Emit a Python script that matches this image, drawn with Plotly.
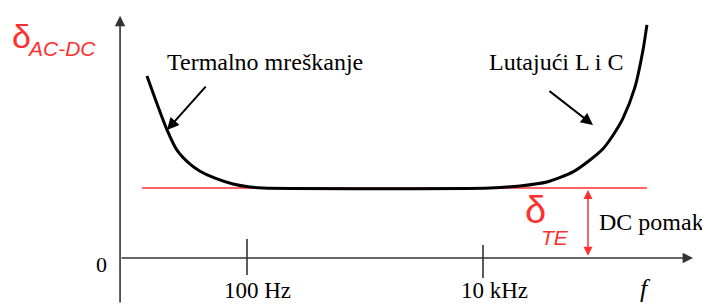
import numpy as np
import plotly.graph_objects as go

# ---- data (frequency in Hz, error in units of the DC offset) ----
curve_freq = [14.2, 17.3, 21.0, 25.5, 32.9, 40, 53.6, 76, 106, 137,
              11500, 20600, 34800, 57900, 80700, 104000, 126000, 153000, 194000, 227000, 245000]
curve_err = [2.6, 2.2, 1.83, 1.54, 1.34, 1.24, 1.14, 1.057, 1.014, 1.0,
             1.0, 1.03, 1.086, 1.23, 1.4, 1.56, 1.75, 1.99, 2.44, 2.97, 3.33]
te_freq = [12.9, 245000]
dc_offset = 1.0
tick_freqs = [100, 10000]
tick_labels = ["100 Hz", "10 kHz"]
axis_origin_freq = 8.4
axis_end_freq = 10 ** 5.78
y_top = 3.46

RED = "#ff3030"
AX = "#333333"
SERIF = "Liberation Serif, Times New Roman, serif"
SANS = "Liberation Sans, Arial, sans-serif"

# the page body has an 8px margin, so the figure is 702x296 and starts at (8, 8)
X_RANGE = [-0.0254, 5.9237]
Y_RANGE = [-0.657, 3.571]

fig = go.Figure()

# DC offset line (red)
fig.add_trace(go.Scatter(x=te_freq, y=[dc_offset] * len(te_freq), mode="lines",
                         line=dict(color=RED, width=1.5), hoverinfo="skip"))
# main curve
fig.add_trace(go.Scatter(x=curve_freq, y=curve_err, mode="lines",
                         line=dict(color="black", width=3, shape="spline", smoothing=0.7),
                         hoverinfo="skip"))
# tick marks crossing the axis
tx, ty = [], []
for f, up, dn in zip(tick_freqs, [0.271, 0.186], [-0.243, -0.286]):
    tx += [f, f, None]
    ty += [up, dn, None]
fig.add_trace(go.Scatter(x=tx, y=ty, mode="lines", line=dict(color=AX, width=1.6),
                         hoverinfo="skip"))

ann = []
# axes with arrows
ann.append(dict(x=np.log10(axis_origin_freq), y=y_top, ax=np.log10(axis_origin_freq), ay=Y_RANGE[0],
                xref="x", yref="y", axref="x", ayref="y", text="", showarrow=True,
                arrowhead=2, arrowsize=1.3, arrowwidth=1.6, arrowcolor=AX, standoff=0))
ann.append(dict(x=np.log10(axis_end_freq), y=0, ax=np.log10(axis_origin_freq), ay=0,
                xref="x", yref="y", axref="x", ayref="y", text="", showarrow=True,
                arrowhead=2, arrowsize=1.3, arrowwidth=1.6, arrowcolor=AX, standoff=0))
# red double arrow for DC offset
ann.append(dict(x=4.890, y=dc_offset - 0.03, ax=4.890, ay=0.01,
                xref="x", yref="y", axref="x", ayref="y", text="", showarrow=True,
                arrowhead=2, startarrowhead=2, arrowside="end+start",
                arrowsize=1.2, startarrowsize=1.2, arrowwidth=1.5, arrowcolor=RED,
                standoff=0, startstandoff=0))
# pointer arrows
ann.append(dict(x=1.322, y=1.83, ax=1.661, ay=2.47,
                xref="x", yref="y", axref="x", ayref="y", text="", showarrow=True,
                arrowhead=2, arrowsize=1.2, arrowwidth=2, arrowcolor="black", standoff=0))
ann.append(dict(x=4.932, y=1.9, ax=4.551, ay=2.4,
                xref="x", yref="y", axref="x", ayref="y", text="", showarrow=True,
                arrowhead=2, arrowsize=1.2, arrowwidth=2, arrowcolor="black", standoff=0))

def txt(x, y, s, size, color="black", family=SERIF, yanchor="middle"):
    return dict(x=x, y=y, xref="x", yref="y", text=s, showarrow=False,
                font=dict(family=family, size=size, color=color),
                xanchor="center", yanchor=yanchor, borderpad=0)

ann.append(txt(2.153, 2.8, "Termalno mreškanje", 24))
ann.append(txt(4.619, 2.8, "Lutajući L i C", 24))
ann.append(txt(5.432, 0.514, "DC pomak", 24))
for f, lab, dx in zip(tick_freqs, tick_labels, [0.089, 0.097]):
    ann.append(txt(np.log10(f) + dx, -0.65, lab, 23, yanchor="bottom"))
ann.append(txt(5.381, -0.65, "<i>f</i>", 26, yanchor="bottom"))
ann.append(txt(0.771, -0.086, "0", 22))
ann.append(txt(0.085, 3.171, "δ", 34, RED, SANS))
ann.append(txt(0.424, 2.986, "<i>AC-DC</i>", 21, RED, SANS))
ann.append(txt(4.441, 0.686, "δ", 38, RED, SANS))
ann.append(txt(4.610, 0.286, "<i>TE</i>", 21, RED, SANS))

fig.update_layout(
    width=702, height=296, margin=dict(l=0, r=0, t=0, b=0),
    paper_bgcolor="white", plot_bgcolor="white", showlegend=False,
    xaxis=dict(type="log", range=X_RANGE, visible=False, fixedrange=True),
    yaxis=dict(range=Y_RANGE, visible=False, fixedrange=True),
    annotations=ann,
)

fig.write_html("out.html")
